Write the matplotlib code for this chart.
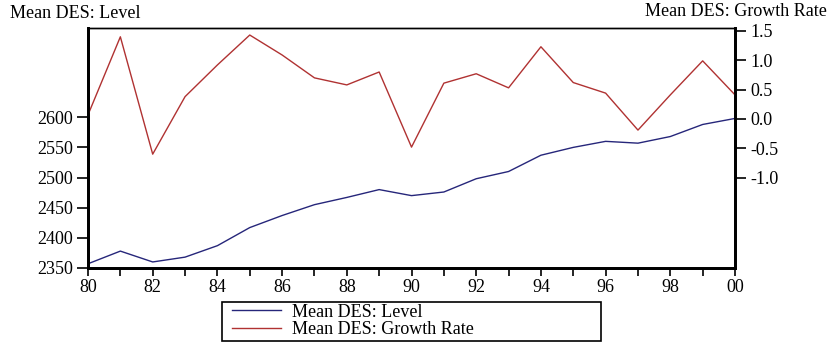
import matplotlib.pyplot as plt
from matplotlib.patches import Rectangle
from matplotlib.ticker import MultipleLocator, FixedLocator

plt.rcParams['font.family'] = ['Liberation Serif', 'DejaVu Serif']

# ---------- 数据 ----------
years = list(range(1980, 2001))
level = [2357, 2378, 2360, 2368, 2387, 2417, 2437, 2455, 2467, 2480, 2470,
         2476, 2498, 2510, 2537, 2550, 2560, 2557, 2568, 2588, 2598]
growth = [0.07, 1.40, -0.60, 0.38, 0.92, 1.43, 1.09, 0.70, 0.58, 0.80, -0.48,
          0.61, 0.77, 0.53, 1.23, 0.62, 0.44, -0.19, 0.41, 0.99, 0.41]
xticks = list(range(1980, 2001, 2))
xlabels = ['%02d' % (y % 100) for y in xticks]

blue = '#26267a'
red = '#b03232'
fs = 13

# ---------- 画布 ----------
fig = plt.figure(figsize=(8.31, 3.43), dpi=100)
ax = fig.add_axes([0.1059, 0.2187, 0.7786, 0.6997])
ax2 = ax.twinx()

l1, = ax.plot(years, level, color=blue, lw=1.0)
l2, = ax2.plot(years, growth, color=red, lw=1.0)

ax.set_xlim(1980, 2000)
ax.set_ylim(2350, 2748)
ax2.set_ylim(-2.54, 1.55)

ax.set_xticks(xticks)
ax.set_xticklabels(xlabels)
ax.xaxis.set_minor_locator(MultipleLocator(1))
ax.yaxis.set_major_locator(FixedLocator([2350, 2400, 2450, 2500, 2550, 2600]))
ax2.yaxis.set_major_locator(FixedLocator([-1.0, -0.5, 0.0, 0.5, 1.0, 1.5]))
ax2.set_yticklabels(['-1.0', '-0.5', '0.0', '0.5', '1.0', '1.5'])

for a in (ax, ax2):
    for s in ('left', 'right', 'bottom'):
        a.spines[s].set_linewidth(2.0)
    a.spines['top'].set_linewidth(1.0)
ax.tick_params(axis='x', which='major', direction='out', length=6, width=1.2,
               labelsize=fs, pad=2)
ax.tick_params(axis='x', which='minor', direction='out', length=6, width=1.2)
ax.tick_params(axis='y', direction='out', length=8, width=1.2, labelsize=fs, pad=3)
ax2.tick_params(axis='y', direction='out', length=8, width=1.2, labelsize=fs, pad=3)

# ---------- 标题 ----------
fig.text(10 / 831, 1 - 14 / 343, 'Mean DES: Level', ha='left', va='center',
         fontsize=fs)
fig.text(827 / 831, 1 - 12 / 343, 'Mean DES: Growth Rate', ha='right',
         va='center', fontsize=fs)

# ---------- 图例（外框单独画） ----------
fig.patches.append(Rectangle((222 / 831, 2 / 343), 379 / 831, 39 / 343,
                             transform=fig.transFigure, fill=False,
                             ec='black', lw=1.2))
leg = fig.legend([l1, l2], ['Mean DES: Level', 'Mean DES: Growth Rate'],
                 loc='center left', bbox_to_anchor=(232 / 831, 22 / 343),
                 fontsize=fs, frameon=False, handlelength=2.7,
                 borderpad=0.0, labelspacing=0.05, handletextpad=0.6,
                 borderaxespad=0)

plt.savefig('out.png', dpi=100)
